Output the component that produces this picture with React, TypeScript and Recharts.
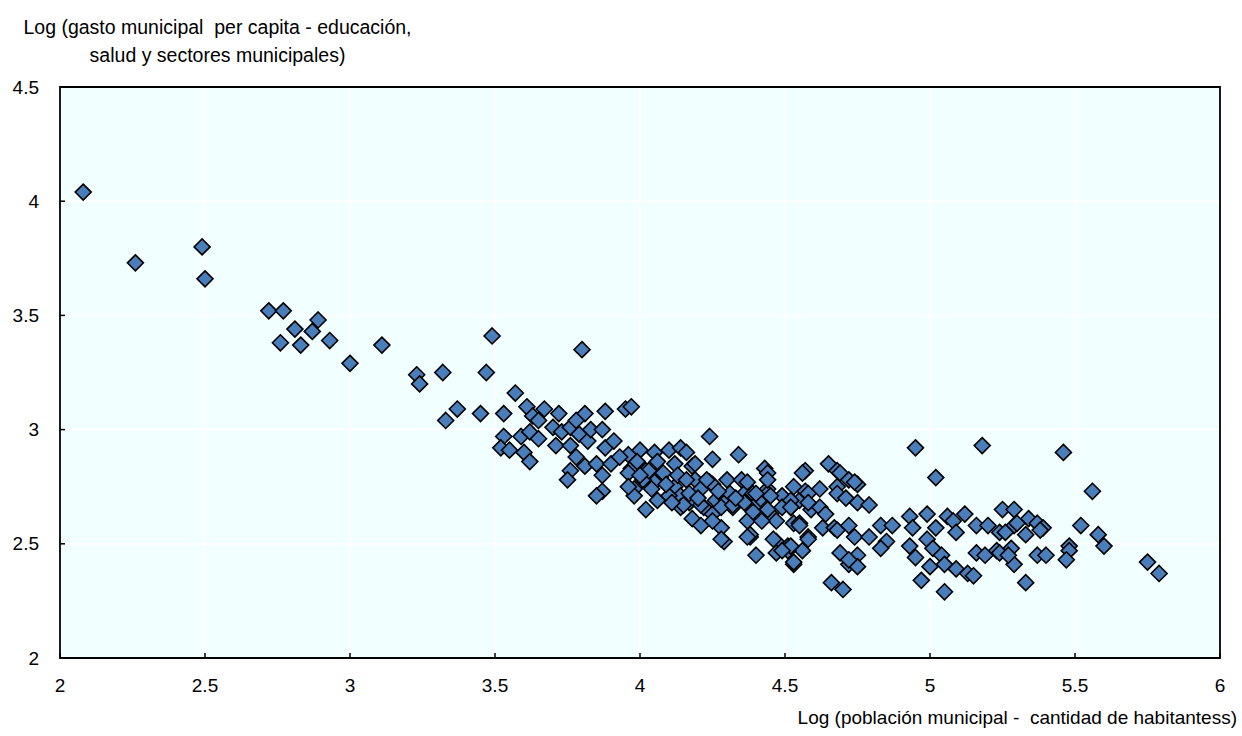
import { ScatterChart, Scatter, XAxis, YAxis, CartesianGrid, ReferenceArea } from "recharts";

// Log of municipal population (x) and log of per-capita municipal spending (y)
const popLog = [
  2.08, 2.26, 2.49, 2.5, 2.72, 2.77, 2.81, 2.89, 2.87, 2.76, 2.83, 2.93, 3.0, 3.11, 3.23, 3.24, 3.32, 3.33, 3.37, 3.45,
  3.47, 3.49, 3.8, 3.53, 3.57, 3.61, 3.67, 3.72, 3.81, 3.88, 3.95, 3.97, 3.53, 3.52, 3.55, 3.6, 3.62, 3.59, 3.62, 3.63,
  3.65, 3.65, 3.7, 3.71, 3.73, 3.76, 3.76, 3.78, 3.79, 3.82, 3.83, 3.87, 3.88, 3.91, 3.78, 3.76, 3.75, 3.81, 3.85, 3.87,
  3.9, 3.87, 3.85, 3.96, 3.97, 4.0, 4.05, 4.1, 3.98, 4.02, 4.07, 4.12, 4.05, 4.14, 4.16, 4.24, 4.25, 4.34, 4.43, 4.44,
  4.57, 4.65, 4.68, 3.96, 3.98, 4.02, 4.06, 4.01, 4.08, 4.12, 4.14, 4.14, 4.18, 4.19, 4.21, 4.22, 4.18, 4.21, 4.24, 4.25,
  4.28, 4.29, 4.26, 4.3, 4.3, 4.32, 4.35, 4.36, 4.37, 4.38, 4.4, 4.39, 4.41, 4.44, 4.45, 4.47, 4.49, 4.47, 4.47, 4.51,
  4.53, 4.55, 4.52, 4.53, 4.56, 4.53, 4.58, 4.59, 4.62, 4.62, 4.64, 4.63, 4.67, 4.68, 4.69, 4.69, 4.72, 4.75, 4.57, 4.68,
  4.71, 4.75, 4.79, 4.55, 4.68, 4.72, 4.74, 4.79, 4.83, 4.87, 4.85, 4.83, 4.93, 4.99, 4.94, 5.06, 5.12, 5.08, 5.02, 5.09,
  5.16, 5.2, 5.25, 5.29, 5.24, 5.29, 4.93, 4.99, 4.95, 5.01, 5.04, 5.0, 4.97, 5.05, 5.05, 5.09, 5.13, 5.15, 5.16, 5.19,
  5.23, 5.28, 5.29, 4.51, 4.75, 4.72, 4.75, 4.66, 4.7, 4.95, 5.18, 5.02, 5.46, 5.56, 5.52, 5.58, 5.6, 5.75, 5.79, 5.34,
  5.3, 5.37, 5.39, 5.38, 5.33, 5.26, 5.24, 5.27, 5.37, 5.4, 5.48, 5.48, 5.47, 5.33, 4.03, 4.19, 4.13, 3.96, 4.1, 4.17,
  4.25, 4.16, 4.23, 4.17, 4.31, 4.39, 4.44, 4.15, 4.21, 4.28, 4.32, 4.39, 4.44, 4.49, 4.52, 4.25, 4.42, 4.38, 4.28, 4.46,
  4.52, 4.56, 4.37, 4.44, 4.4, 4.45, 4.58, 4.74, 4.36, 4.39, 4.52, 4.58, 4.55, 4.37, 4.58, 4.49, 4.53, 4.72,
  4.0, 4.04, 4.09, 4.11, 4.2, 4.27, 4.33, 4.06, 3.93, 3.99,
];

const spendLog = [
  4.04, 3.73, 3.8, 3.66, 3.52, 3.52, 3.44, 3.48, 3.43, 3.38, 3.37, 3.39, 3.29, 3.37, 3.24, 3.2, 3.25, 3.04, 3.09, 3.07,
  3.25, 3.41, 3.35, 3.07, 3.16, 3.1, 3.09, 3.07, 3.07, 3.08, 3.09, 3.1, 2.97, 2.92, 2.91, 2.9, 2.86, 2.97, 2.99, 3.06,
  3.04, 2.96, 3.01, 2.93, 2.99, 2.93, 3.01, 3.04, 2.98, 2.95, 3.0, 3.0, 2.92, 2.95, 2.88, 2.82, 2.78, 2.84, 2.85, 2.8,
  2.85, 2.73, 2.71, 2.89, 2.83, 2.91, 2.9, 2.91, 2.74, 2.82, 2.79, 2.85, 2.77, 2.92, 2.9, 2.97, 2.87, 2.89, 2.83, 2.81,
  2.82, 2.85, 2.82, 2.81, 2.71, 2.65, 2.69, 2.78, 2.81, 2.75, 2.71, 2.66, 2.84, 2.78, 2.74, 2.66, 2.61, 2.58, 2.77, 2.63,
  2.57, 2.51, 2.69, 2.78, 2.69, 2.66, 2.78, 2.72, 2.6, 2.53, 2.45, 2.65, 2.69, 2.74, 2.63, 2.6, 2.71, 2.51, 2.46, 2.49,
  2.75, 2.69, 2.66, 2.59, 2.47, 2.41, 2.53, 2.65, 2.74, 2.66, 2.63, 2.57, 2.57, 2.75, 2.46, 2.81, 2.78, 2.76, 2.73, 2.72,
  2.7, 2.68, 2.67, 2.59, 2.56, 2.58, 2.53, 2.53, 2.58, 2.58, 2.51, 2.48, 2.62, 2.63, 2.57, 2.62, 2.63, 2.6, 2.57, 2.55,
  2.58, 2.58, 2.65, 2.65, 2.55, 2.58, 2.49, 2.52, 2.44, 2.48, 2.45, 2.4, 2.34, 2.29, 2.41, 2.39, 2.37, 2.36, 2.46, 2.45,
  2.47, 2.48, 2.41, 2.47, 2.45, 2.41, 2.4, 2.33, 2.3, 2.92, 2.93, 2.79, 2.9, 2.73, 2.58, 2.54, 2.49, 2.42, 2.37, 2.61,
  2.59, 2.59, 2.57, 2.56, 2.54, 2.55, 2.46, 2.45, 2.45, 2.45, 2.49, 2.47, 2.43, 2.33, 2.82, 2.85, 2.8, 2.75, 2.71, 2.68,
  2.76, 2.78, 2.78, 2.72, 2.72, 2.72, 2.72, 2.67, 2.67, 2.66, 2.67, 2.66, 2.65, 2.66, 2.69, 2.6, 2.6, 2.54, 2.52, 2.52,
  2.49, 2.81, 2.77, 2.78, 2.72, 2.71, 2.72, 2.77, 2.68, 2.64, 2.66, 2.68, 2.58, 2.53, 2.52, 2.47, 2.42, 2.43,
  2.8, 2.74, 2.76, 2.68, 2.7, 2.73, 2.7, 2.86, 2.88, 2.86,
];

const xTicks = [2, 2.5, 3, 3.5, 4, 4.5, 5, 5.5, 6];
const yTicks = [2, 2.5, 3, 3.5, 4, 4.5];

const yTitle = ["Log (gasto municipal  per capita - educación,", "salud y sectores municipales)"];
const xTitle = "Log (población municipal -  cantidad de habitantess)";

const data = popLog.map((x, i) => ({ x, y: spendLog[i] }));

const FONT = "'Liberation Sans', Arial, sans-serif";

const Diamond = (props: any) => {
  const { cx, cy } = props;
  const r = 8;
  return (
    <polygon
      points={`${cx},${cy - r} ${cx + r},${cy} ${cx},${cy + r} ${cx - r},${cy}`}
      fill="#4A7EBB"
      stroke="#000"
      strokeWidth={1.6}
    />
  );
};

const YTick = ({ x, y, payload }: any) => (
  <g>
    <text x={x} y={y} textAnchor="end" dominantBaseline="central" fontSize={19} fontFamily={FONT} fill="#000">
      {payload.value}
    </text>
    <line x1={x + 21} x2={x + 26} y1={y} y2={y} stroke="#000" strokeWidth={1.5} />
  </g>
);

const XTick = ({ x, y, payload }: any) => (
  <g>
    <text x={x} y={y} textAnchor="middle" dominantBaseline="central" fontSize={19} fontFamily={FONT} fill="#000">
      {payload.value}
    </text>
    <line x1={x} x2={x} y1={y - 27} y2={y - 32} stroke="#000" strokeWidth={1.5} />
  </g>
);

export default function App() {
  return (
    <div style={{ position: "absolute", left: 0, top: 0, width: 1242, height: 736, background: "#fff", fontFamily: FONT }}>
      <div
        style={{
          position: "absolute",
          left: 0,
          top: 13,
          width: 435,
          textAlign: "center",
          fontSize: 19.5,
          lineHeight: "28px",
          color: "#000",
          whiteSpace: "pre",
        }}
      >
        {yTitle[0]}
        <br />
        {yTitle[1]}
      </div>
      <div style={{ position: "absolute", right: 5, top: 706, fontSize: 19, lineHeight: "24px", color: "#000", whiteSpace: "pre" }}>
        {xTitle}
      </div>
      <ScatterChart width={1242} height={736} margin={{ top: 87, right: 22, bottom: 0, left: 0 }}>
        <CartesianGrid stroke="#fff" strokeWidth={1.5} fill="#F2FFFF" />
        <XAxis
          type="number"
          dataKey="x"
          domain={[2, 6]}
          ticks={xTicks}
          height={78}
          axisLine={false}
          tickLine={false}
          tickSize={0}
          tickMargin={27}
          tick={<XTick />}
        />
        <YAxis
          type="number"
          dataKey="y"
          domain={[2, 4.5]}
          ticks={yTicks}
          width={60}
          axisLine={false}
          tickLine={false}
          tickSize={0}
          tickMargin={21}
          tick={<YTick />}
        />
        <ReferenceArea x1={2} x2={6} y1={2} y2={4.5} fill="none" stroke="#000" strokeWidth={1.8} />
        <Scatter data={data} shape={<Diamond />} isAnimationActive={false} />
      </ScatterChart>
    </div>
  );
}
